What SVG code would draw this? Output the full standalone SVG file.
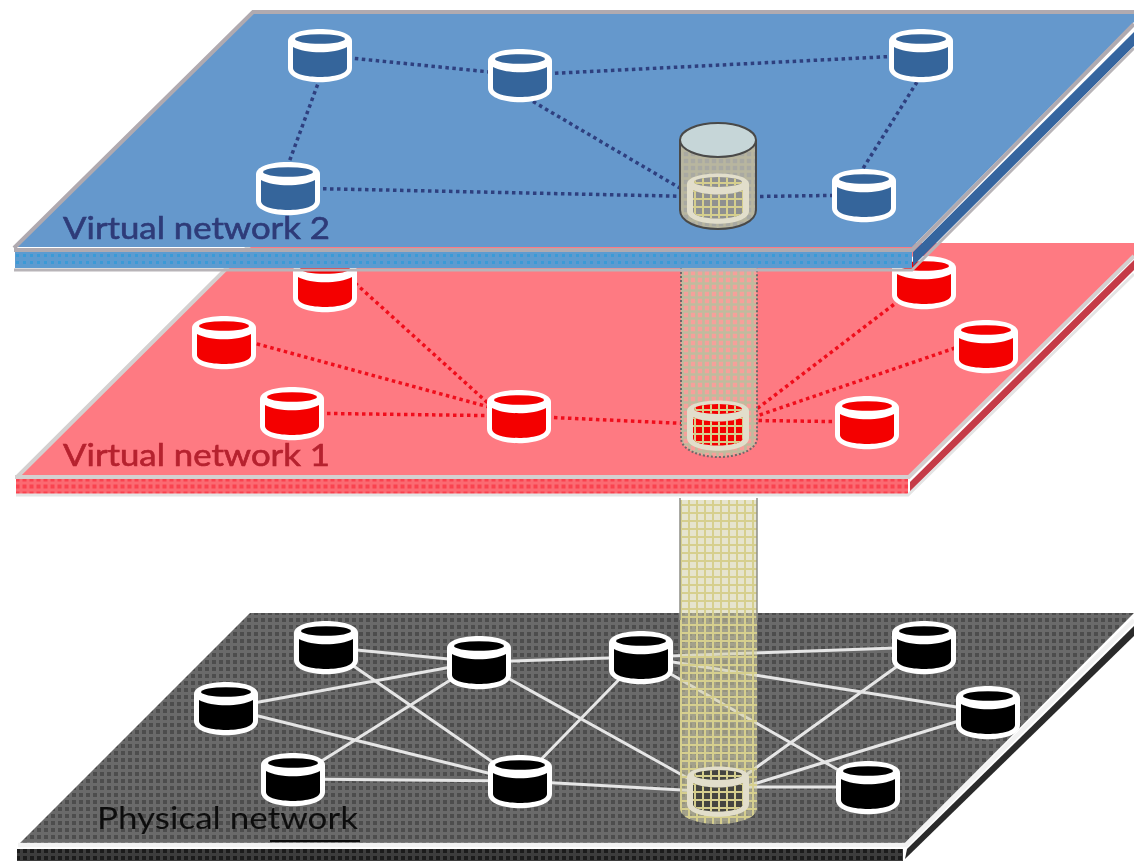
<svg xmlns="http://www.w3.org/2000/svg" xmlns:xlink="http://www.w3.org/1999/xlink" width="1134" height="861" viewBox="0 0 1134 861">
<style>
.lab{font-family:Lato,"Liberation Sans",sans-serif;font-size:31px}
.vlab{stroke-width:.6;paint-order:stroke}
.blue{color:#36659b}.red{color:#f40006}.blk{color:#050505}
.e-b{stroke:#2f3f7f;stroke-width:3.5;stroke-dasharray:3.5 3.5;fill:none}
.e-r{stroke:#f0101c;stroke-width:3.5;stroke-dasharray:3.5 3.5;fill:none}
.e-k{stroke:#e6e6e6;stroke-width:3;fill:none}
</style>
<defs>
<filter id="soft" x="-2%" y="-2%" width="104%" height="104%"><feGaussianBlur stdDeviation="0.7"/></filter>
<pattern id="gridK" width="7" height="7" patternUnits="userSpaceOnUse"><rect width="7" height="7" fill="#6a6a6a"/><rect x="2" y="2" width="4" height="4" fill="#4e4e4e"/></pattern>
<pattern id="gridS" width="7" height="7" patternUnits="userSpaceOnUse"><rect width="7" height="7" fill="#3c3c3c"/><rect x="2" y="2" width="4" height="4" fill="#1c1c1c"/></pattern>
<pattern id="gridT" width="8" height="8" patternUnits="userSpaceOnUse"><path d="M0 .8H8M.8 0V8" stroke="#d6cf8e" stroke-width="2.4" fill="none"/></pattern>
<pattern id="gridD" width="7" height="7" patternUnits="userSpaceOnUse"><path d="M0 3.5H7M3.5 0V7" stroke="#bfbb9e" stroke-width="2.6" fill="none"/></pattern>
<pattern id="gridR" width="7" height="7" patternUnits="userSpaceOnUse"><rect width="7" height="7" fill="#fb6a72"/><rect x="1.5" y="1.5" width="4" height="4" fill="#f9434f"/></pattern>
<pattern id="gridB" width="7" height="7" patternUnits="userSpaceOnUse"><rect width="7" height="7" fill="#5d9bd0"/><rect x="2" y="2" width="3" height="3" fill="#3a9ad6"/></pattern>
<g id="cyl">
<path d="M-32 -14C-32 -30 32 -30 32 -14V13C32 32 -32 32 -32 13Z" fill="#fff"/>
<ellipse cx="0" cy="-16" rx="25" ry="4.8" fill="currentColor"/>
<path d="M-27 -8C-14 -1 14 -1 27 -8V13C27 25 -27 25 -27 13Z" fill="currentColor"/>
</g>
<g id="tubeNode">
<path d="M-31 -14C-31 -28 31 -28 31 -14V13C31 30 -31 30 -31 13Z" fill="#e2decb"/>
<ellipse cx="0" cy="-16" rx="24" ry="5" fill="currentColor"/>
<path d="M-25 -8C-14 -2 14 -2 25 -8V13C25 23 -25 23 -25 13Z" fill="currentColor"/>
<path d="M-25 -8C-14 -2 14 -2 25 -8V13C25 23 -25 23 -25 13Z" fill="url(#gridT)"/>
<ellipse cx="0" cy="-16" rx="24" ry="5" fill="url(#gridT)"/>
</g>
</defs>
<rect width="1134" height="861" fill="#fff"/>
<g filter="url(#soft)">

<g id="plate-physical">
<polygon points="20,843 250,613 1134,613 905,843" fill="url(#gridK)"/>
<rect x="17" y="849" width="886" height="12" fill="url(#gridS)"/>
<polygon points="907,849 1134,626 1134,636 905,859" fill="#2a2a2a"/>
<path d="M18 845H906L1134 620" fill="none" stroke="#f2f2f2" stroke-width="4.5"/>
</g>

<g id="connectors-physical">
<path class="e-k" d="M326 647L479 662M326 647L520 781M226 708L479 662M226 708L520 781M293 779L479 662M293 779L520 781M479 662L641 657M479 662L718 795M520 781L641 657M520 781L718 792M641 657L924 647M641 657L988 712M641 657L868 787M924 647L718 795M988 712L718 795M868 787L718 787"/>
</g>
<g id="nodes-physical">
<use id="p1" class="blk" href="#cyl" x="326" y="647"/>
<use id="p2" class="blk" href="#cyl" x="226" y="708"/>
<use id="p3" class="blk" href="#cyl" x="293" y="779"/>
<use id="p4" class="blk" href="#cyl" x="479" y="662"/>
<use id="p5" class="blk" href="#cyl" x="520" y="781"/>
<use id="p6" class="blk" href="#cyl" x="641" y="657"/>
<use id="p7" class="blk" href="#cyl" x="924" y="647"/>
<use id="p8" class="blk" href="#cyl" x="988" y="712"/>
<use id="p9" class="blk" href="#cyl" x="868" y="787"/>
</g>
<g id="tube-lower">
<path d="M680 500H757V808C757 818 738 824 718 824S680 818 680 808Z" fill="#d2cda6" fill-opacity=".55"/>
<path d="M680 500H757V808C757 818 738 824 718 824S680 818 680 808Z" fill="url(#gridT)"/>
<path d="M680 498V620M757 498V620" stroke="#8f8f86" stroke-width="1.5"/>
<use style="color:#454540" href="#tubeNode" x="718" y="791"/>
</g>
<g id="label-physical">
<text class="lab" x="97" y="829" fill="#111" textLength="261" lengthAdjust="spacingAndGlyphs">Physical network</text>
<path d="M270 841H360" stroke="#111" stroke-width="2"/>
</g>

<g id="plate-virtual-1">
<polygon points="18,476 252,243 1134,243 1134,256 908,476" fill="#fe7a82"/>
<rect x="16" y="478" width="892" height="16" fill="url(#gridR)"/>
<polygon points="910,482 1134,260 1134,270 910,492" fill="#c53a47"/>
<path d="M16 495H908L1134 274" fill="none" stroke="#e4e4e4" stroke-width="3"/>
<path d="M17 477L252 243M15 477H909L1134 256" fill="none" stroke="#d4d0d0" stroke-width="4"/>
</g>
<g id="connectors-virtual-1">
<path class="e-r" d="M355 283L500 414M250 342L500 410M292 413L519 416M519 416L718 425M905 296L745 418M955 348L745 420M867 422L718 420"/>
</g>
<g id="nodes-virtual-1">
<use id="r1" class="red" href="#cyl" x="325" y="285"/>
<use id="r2" class="red" href="#cyl" x="224" y="342"/>
<use id="r3" class="red" href="#cyl" x="292" y="413"/>
<use id="r4" class="red" href="#cyl" x="519" y="416"/>
<use id="r5" class="red" href="#cyl" x="924" y="282"/>
<use id="r6" class="red" href="#cyl" x="986" y="346"/>
<use id="r7" class="red" href="#cyl" x="867" y="422"/>
</g>
<g id="tube-middle">
<path d="M681 260H757V438C757 450 738 457 719 457S681 450 681 438Z" fill="#f6a09a"/>
<path d="M681 260H757V438C757 450 738 457 719 457S681 450 681 438Z" fill="url(#gridD)"/>
<path d="M681 260V438C681 450 700 457 719 457S757 450 757 438V260" fill="none" stroke="#70686a" stroke-width="2" stroke-dasharray="2 2"/>
<use class="red" href="#tubeNode" x="718" y="425"/>
</g>
<text id="label-virtual-1" class="lab vlab" x="63" y="466" fill="#b5202e" stroke="#b5202e" textLength="267" lengthAdjust="spacingAndGlyphs">Virtual network 1</text>

<g id="plate-virtual-2">
<polygon points="16,247 253,12 1134,12 1134,22 912,247" fill="#6598cc"/>
<rect x="15" y="252" width="897" height="16" fill="url(#gridB)"/>
<polygon points="913,252 1134,32 1134,46 913,266" fill="#35659f"/>
<path d="M14 248L253 12H1134M14 250H912L1134 24" fill="none" stroke="#b0aab0" stroke-width="4"/>
<path d="M14 270H912L1134 48" fill="none" stroke="#b8b4b8" stroke-width="3"/>
</g>
<g id="connectors-virtual-2">
<path class="e-b" d="M320 78L288 165M320 55L520 75M520 75L921 55M917 82L862 170M527 98L690 194M288 188L718 197M718 197L864 195"/>
</g>
<g id="nodes-virtual-2">
<use id="b1" class="blue" href="#cyl" x="320" y="55"/>
<use id="b2" class="blue" href="#cyl" x="520" y="75"/>
<use id="b3" class="blue" href="#cyl" x="921" y="55"/>
<use id="b4" class="blue" href="#cyl" x="288" y="188"/>
<use id="b5" class="blue" href="#cyl" x="864" y="195"/>
</g>
<g id="tube-upper">
<path d="M680 140V210C680 222 698 229 718 229S756 222 756 210V140Z" fill="#a9a9a2"/>
<path d="M680 140V210C680 222 698 229 718 229S756 222 756 210V140Z" fill="url(#gridD)" opacity=".7"/>
<path d="M680 140V210C680 222 698 229 718 229S756 222 756 210V140" fill="none" stroke="#4a4a48" stroke-width="2"/>
<ellipse cx="718" cy="140" rx="38" ry="17" fill="#c6d6d8" stroke="#4a4a48" stroke-width="2"/>
<use style="color:#8f9090" href="#tubeNode" x="718" y="198"/>
</g>
<text id="label-virtual-2" class="lab vlab" x="63" y="239" fill="#2d3a78" stroke="#2d3a78" textLength="267" lengthAdjust="spacingAndGlyphs">Virtual network 2</text>
</g>
</svg>
